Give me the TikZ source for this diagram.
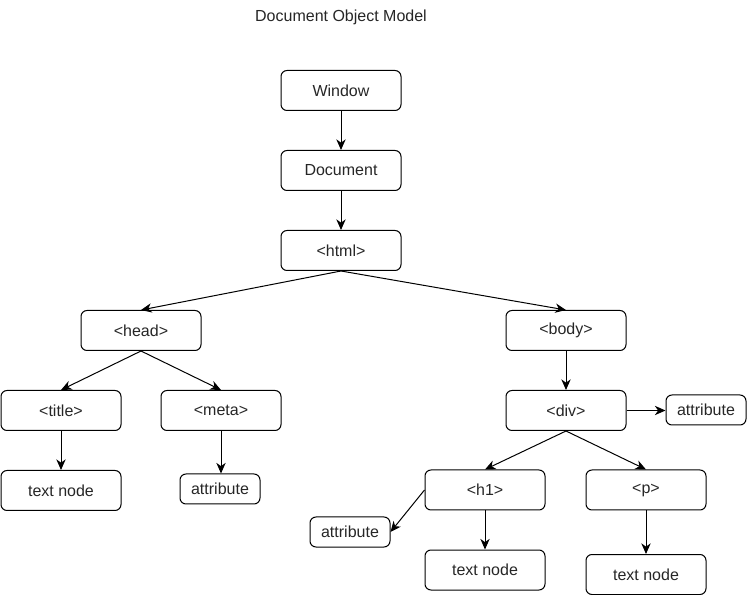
\documentclass[tikz,border=0pt]{standalone}
\usepackage{fontspec}
\setmainfont{Liberation Sans}
\usetikzlibrary{arrows.meta}
\begin{document}
\begin{tikzpicture}[x=0.75pt,y=-0.75pt,
  lbl/.style={font=\fontsize{12}{14}\selectfont, text=black!85},
  box/.style={lbl, draw, rounded corners=4.5pt, minimum width=90pt, minimum height=30pt, inner sep=0pt, line width=0.75pt},
  sbox/.style={box, minimum width=60pt, minimum height=22.5pt},
  arr/.style={-{Stealth[length=8pt,width=7pt,inset=2.5pt]}, line width=0.75pt}]
\useasboundingbox (0,0) rectangle (747,595);
\node[lbl] (ttl) at (341,17) {Document Object Model};
\node[box] (win) at (341,90.5) {Window};
\node[box] (doc) at (341,170.5) {Document};
\node[box] (html) at (341,250.5) {<html>};
\node[box] (head) at (141,330.5) {<head>};
\node[box] (body) at (566,330.5) {<body>};
\node[box] (title) at (61,410.5) {<title>};
\node[box] (meta) at (221,410.5) {<meta>};
\node[box] (div) at (566,410.5) {<div>};
\node[sbox] (divattr) at (706,410) {attribute};
\node[box] (titletxt) at (61,490.5) {text node};
\node[sbox] (metaattr) at (220,489) {attribute};
\node[box] (h1) at (485,490) {<h1>};
\node[box] (p) at (646,490) {<p>};
\node[sbox] (h1attr) at (350,532) {attribute};
\node[box] (h1txt) at (485,570) {text node};
\node[box] (ptxt) at (646,574.5) {text node};
\draw[arr] (win) -- (doc);
\draw[arr] (doc) -- (html);
\draw[arr] (html.south) -- (head.north);
\draw[arr] (html.south) -- (body.north);
\draw[arr] (head.south) -- (title.north);
\draw[arr] (head.south) -- (meta.north);
\draw[arr] (body) -- (div);
\draw[arr] (div.east) -- (divattr.west |- div.east);
\draw[arr] (title) -- (titletxt);
\draw[arr] (meta.south) -- (metaattr.north -| meta.south);
\draw[arr] (div.south) -- (h1.north);
\draw[arr] (div.south) -- (p.north);
\draw[arr] (h1.west) -- (h1attr.east);
\draw[arr] (h1) -- (h1txt);
\draw[arr] (p) -- (ptxt);
\end{tikzpicture}
\end{document}
